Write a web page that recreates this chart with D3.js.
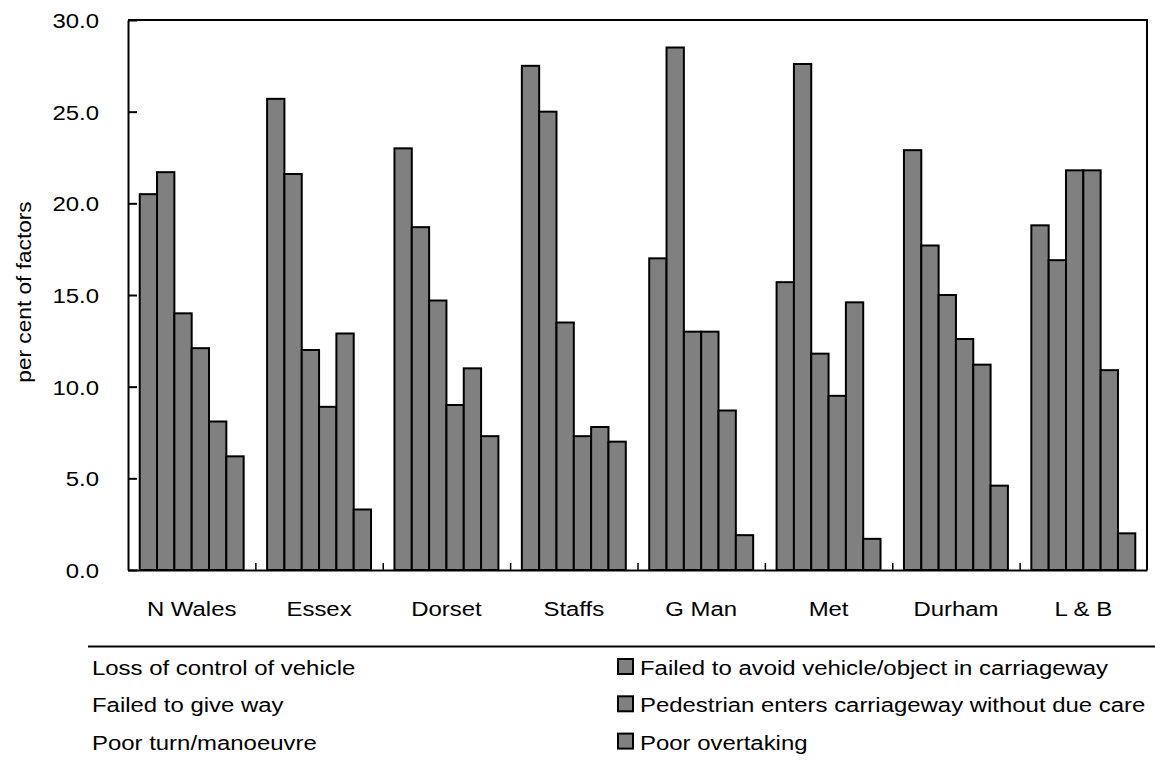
<!DOCTYPE html>
<html>
<head>
<meta charset="utf-8">
<script src="https://cdn.jsdelivr.net/npm/d3@7"></script>
<style>
  html, body { margin: 0; padding: 0; background: #fff; }
  svg { display: block; }
  text { font-family: Arial, "Liberation Sans", sans-serif; fill: #000; }
</style>
</head>
<body>
<svg id="chart" width="1155" height="761"></svg>
<script>
const categories = ["N Wales", "Essex", "Dorset", "Staffs", "G Man", "Met", "Durham", "L & B"];
const seriesNames = [
  "Loss of control of vehicle",
  "Failed to avoid vehicle/object in carriageway",
  "Failed to give way",
  "Pedestrian enters carriageway without due care",
  "Poor turn/manoeuvre",
  "Poor overtaking"
];
const lossOfControl   = [20.5, 25.7, 23.0, 27.5, 17.0, 15.7, 22.9, 18.8];
const failedToAvoid   = [21.7, 21.6, 18.7, 25.0, 28.5, 27.6, 17.7, 16.9];
const failedToGiveWay = [14.0, 12.0, 14.7, 13.5, 13.0, 11.8, 15.0, 21.8];
const pedestrian      = [12.1,  8.9,  9.0,  7.3, 13.0,  9.5, 12.6, 21.8];
const poorTurn        = [ 8.1, 12.9, 11.0,  7.8,  8.7, 14.6, 11.2, 10.9];
const poorOvertaking  = [ 6.2,  3.3,  7.3,  7.0,  1.9,  1.7,  4.6,  2.0];
const yTicks = [0, 5, 10, 15, 20, 25, 30];
const yLabel = "per cent of factors";

const seriesValues = [lossOfControl, failedToAvoid, failedToGiveWay, pedestrian, poorTurn, poorOvertaking];

const svg = d3.select("#chart");
const pLeft = 128, pRight = 1147, pTop = 20, pBottom = 570;
const FONT = 21;
const SX = 1.14; // horizontal glyph stretch of the original

const x = d3.scaleBand().domain(categories).range([pLeft, pRight])
  .paddingInner(0.184).paddingOuter(0.092);
const xs = d3.scaleBand().domain(d3.range(seriesNames.length)).range([0, x.bandwidth()]).padding(0);
const y = d3.scaleLinear().domain([0, 30]).range([pBottom, pTop]);

// bars
const groups = svg.append("g").selectAll("g").data(categories).join("g")
  .attr("transform", c => `translate(${x(c)},0)`);
groups.selectAll("rect")
  .data((c, ci) => seriesValues.map((vals, si) => ({ si, v: vals[ci] })))
  .join("rect")
  .attr("x", d => xs(d.si))
  .attr("width", xs.bandwidth())
  .attr("y", d => y(d.v))
  .attr("height", d => y(0) - y(d.v))
  .attr("fill", "#808080")
  .attr("stroke", "#000")
  .attr("stroke-width", 2);

// plot frame (top and right)
svg.append("path")
  .attr("d", `M${pLeft},${pTop}H${pRight}V${pBottom}`)
  .attr("fill", "none").attr("stroke", "#000").attr("stroke-width", 2);

// y axis
const yAxis = d3.axisLeft(y).tickValues(yTicks).tickFormat(d3.format(".1f"))
  .tickSizeInner(-9).tickSizeOuter(0).tickPadding(29);
const gy = svg.append("g").attr("transform", `translate(${pLeft},0)`).call(yAxis);
gy.select(".domain").attr("stroke", "#000").attr("stroke-width", 2);
gy.selectAll(".tick line").attr("stroke", "#000").attr("stroke-width", 2);
gy.selectAll(".tick text")
  .attr("font-size", FONT)
  .attr("font-family", "Arial, 'Liberation Sans', sans-serif")
  .attr("x", -29 / SX)
  .attr("dy", "0.36em")
  .attr("transform", `scale(${SX},1)`);

// x axis: ticks between categories
const xEdge = d3.scaleLinear().domain([0, categories.length]).range([pLeft, pRight]);
const gx = svg.append("g").attr("transform", `translate(0,${pBottom})`)
  .call(d3.axisBottom(xEdge).tickValues(d3.range(1, categories.length)).tickSizeInner(-7).tickSizeOuter(0).tickFormat(""));
gx.select(".domain").attr("stroke", "#000").attr("stroke-width", 2);
gx.selectAll(".tick line").attr("stroke", "#000").attr("stroke-width", 1.5);

svg.append("g").selectAll("text").data(categories).join("text")
  .attr("transform", c => `translate(${x(c) + x.bandwidth() / 2},616) scale(${SX},1)`)
  .attr("text-anchor", "middle")
  .attr("font-size", FONT)
  .text(c => c);

// y label
svg.append("text")
  .attr("transform", `translate(31,292) rotate(-90) scale(1.08,1)`)
  .attr("text-anchor", "middle")
  .attr("font-size", FONT)
  .text(yLabel);

// legend
const clip = svg.append("clipPath").attr("id", "legclip");
clip.append("rect").attr("x", 88).attr("y", 600).attr("width", 1155).attr("height", 200);
const leg = svg.append("g").attr("clip-path", "url(#legclip)");
leg.append("line").attr("x1", 60).attr("x2", 1160).attr("y1", 646.5).attr("y2", 646.5)
  .attr("stroke", "#000").attr("stroke-width", 2);
const colX = [92, 640];
const rowY = [675, 712.3, 749.6];
const items = leg.selectAll("g.item").data(seriesNames).join("g").attr("class", "item")
  .attr("transform", (d, i) => `translate(${colX[i % 2]},${rowY[Math.floor(i / 2)]})`);
items.append("rect")
  .attr("x", -22).attr("y", -16).attr("width", 15).attr("height", 15)
  .attr("fill", "#808080").attr("stroke", "#000").attr("stroke-width", 2);
items.append("text")
  .attr("transform", `scale(${SX},1)`)
  .attr("font-size", FONT)
  .text(d => d);
</script>
</body>
</html>
